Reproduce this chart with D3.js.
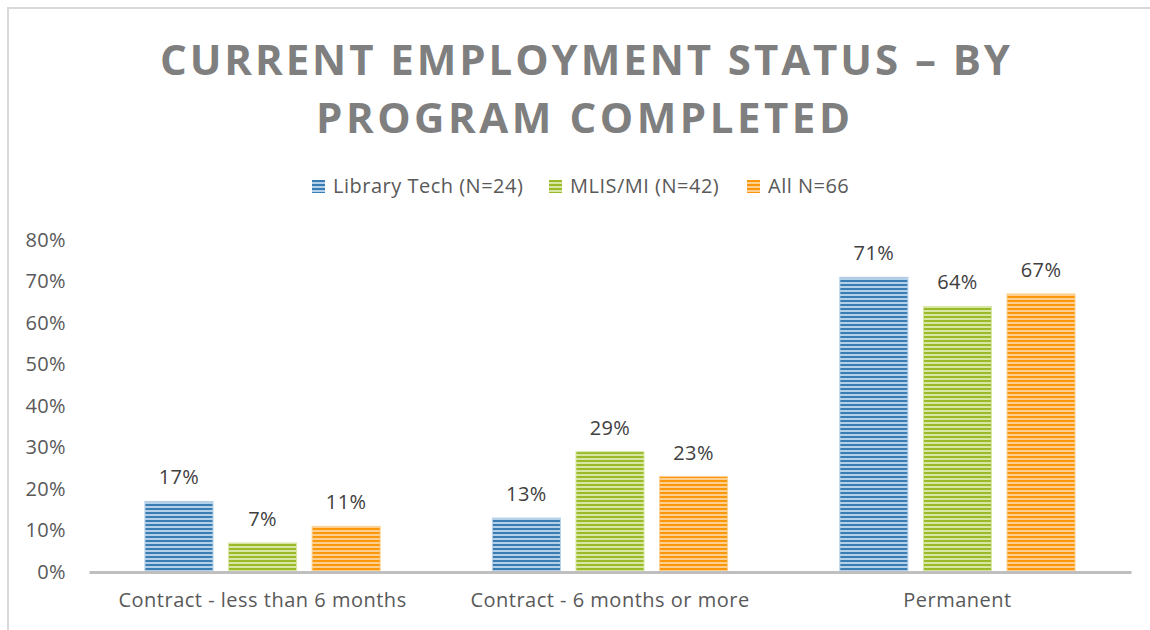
<!DOCTYPE html>
<html>
<head>
<meta charset="utf-8">
<script src="https://cdnjs.cloudflare.com/ajax/libs/d3/7.8.5/d3.min.js"></script>
<style>
  body { margin: 0; background: #fff; }
  text { font-family: "Open Sans", sans-serif; }
</style>
</head>
<body>
<script>
// chart data
var categories = ["Contract - less than 6 months", "Contract - 6 months or more", "Permanent"];
var seriesNames = ["Library Tech (N=24)", "MLIS/MI (N=42)", "All N=66"];
var libraryTech = [17, 13, 71];
var mlis = [7, 29, 64];
var allRespondents = [11, 23, 67];
var yTicks = [0, 10, 20, 30, 40, 50, 60, 70, 80];

var seriesValues = [libraryTech, mlis, allRespondents];
var dark = ["#3a7db2", "#9aba2a", "#fa970a"];
var light = ["#b4d0e8", "#d8e6a4", "#fdd092"];

var w = 1150, h = 630;
var plotLeft = 89, plotRight = 1131, plotTop = 240, plotBottom = 572;

var svg = d3.select("body").append("svg")
    .attr("width", w)
    .attr("height", h);

// striped fills
var defs = svg.append("defs");
dark.forEach(function (c, i) {
    var p = defs.append("pattern")
        .attr("id", "stripe" + i)
        .attr("patternUnits", "userSpaceOnUse")
        .attr("width", 8).attr("height", 4)
        .attr("y", plotBottom);
    p.append("rect").attr("width", 8).attr("height", 4).attr("fill", light[i]);
    p.append("rect").attr("width", 8).attr("height", 2).attr("fill", c);
});

// outer frame (left and top edges visible)
svg.append("path")
    .attr("d", "M8,630 V8 H1150")
    .attr("fill", "none")
    .attr("stroke", "#d9d9d9")
    .attr("stroke-width", 2);

// title
var title = svg.append("g")
    .attr("fill", "#7f7f7f")
    .style("font-weight", "bold")
    .style("font-size", "42px");
title.append("text")
    .attr("x", 160).attr("y", 75)
    .attr("textLength", 850).attr("lengthAdjust", "spacing")
    .text("CURRENT EMPLOYMENT STATUS \u2013 BY");
title.append("text")
    .attr("x", 316).attr("y", 133)
    .attr("textLength", 534).attr("lengthAdjust", "spacing")
    .text("PROGRAM COMPLETED");

var x0 = d3.scaleBand()
    .domain(categories)
    .range([plotLeft, plotRight])
    .paddingInner(0.323)
    .paddingOuter(0.161);

var x1 = d3.scaleBand()
    .domain(d3.range(seriesNames.length))
    .range([0, x0.bandwidth()])
    .paddingInner(0.186)
    .paddingOuter(0);

var y = d3.scaleLinear()
    .domain([0, 80])
    .range([plotBottom, plotTop]);

// y labels
var yAxis = d3.axisLeft(y)
    .tickValues(yTicks)
    .tickSize(0)
    .tickPadding(23)
    .tickFormat(function (d) { return d + "%"; });
var gy = svg.append("g")
    .attr("transform", "translate(" + plotLeft + ",0)")
    .call(yAxis);
gy.select(".domain").remove();
gy.selectAll("text")
    .attr("fill", "#595959")
    .style("font-size", "20px")
    .style("letter-spacing", "0.4px")
    .style("font-family", "Open Sans, sans-serif");

// bars
var groups = svg.selectAll(".group")
    .data(categories)
    .enter().append("g")
    .attr("class", "group")
    .attr("transform", function (d) { return "translate(" + x0(d) + ",0)"; });

groups.selectAll("rect")
    .data(function (d, ci) {
        return seriesValues.map(function (s, si) { return { s: si, v: s[ci] }; });
    })
    .enter().append("rect")
    .attr("x", function (d) { return x1(d.s); })
    .attr("y", function (d) { return y(d.v); })
    .attr("width", x1.bandwidth())
    .attr("height", function (d) { return y(0) - y(d.v); })
    .attr("fill", function (d) { return "url(#stripe" + d.s + ")"; })
    .attr("stroke", function (d) { return light[d.s]; })
    .attr("stroke-width", 1);

groups.selectAll(".lbl")
    .data(function (d, ci) {
        return seriesValues.map(function (s, si) { return { s: si, v: s[ci] }; });
    })
    .enter().append("text")
    .attr("class", "lbl")
    .attr("x", function (d) { return x1(d.s) + x1.bandwidth() / 2; })
    .attr("y", function (d) { return y(d.v) - 17; })
    .attr("text-anchor", "middle")
    .attr("fill", "#404040")
    .style("font-size", "20px")
    .style("letter-spacing", "0.4px")
    .text(function (d) { return d.v + "%"; });

// x axis
var xAxis = d3.axisBottom(x0).tickSize(0).tickPadding(21);
var gx = svg.append("g")
    .attr("transform", "translate(0," + plotBottom + ")")
    .call(xAxis);
gx.select(".domain")
    .attr("stroke", "#bfbfbf")
    .attr("stroke-width", 3);
gx.selectAll("text")
    .attr("fill", "#595959")
    .style("font-size", "20px")
    .style("letter-spacing", "0.5px")
    .style("font-family", "Open Sans, sans-serif");

// legend
var legendX = [312, 549, 747];
var legend = svg.selectAll(".legend")
    .data(seriesNames)
    .enter().append("g")
    .attr("class", "legend")
    .attr("transform", function (d, i) { return "translate(" + legendX[i] + ",180)"; });
legend.append("rect")
    .attr("width", 13).attr("height", 13)
    .attr("fill", function (d, i) { return "url(#stripe" + i + ")"; });
legend.append("text")
    .attr("x", 21).attr("y", 13)
    .attr("fill", "#595959")
    .style("font-size", "20px")
    .style("letter-spacing", "0.5px")
    .text(function (d) { return d; });
</script>
</body>
</html>
